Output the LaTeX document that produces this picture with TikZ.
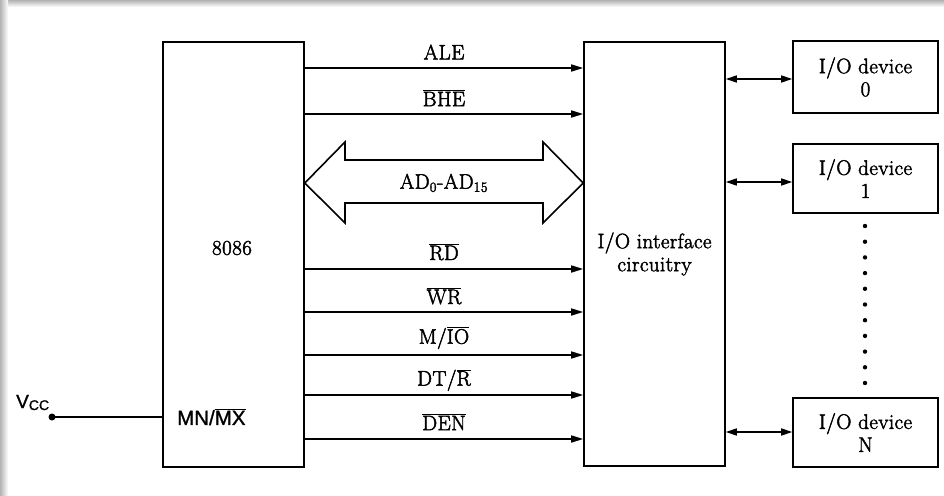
\documentclass[tikz,border=0pt]{standalone}
\usepackage{fontspec}
\newfontfamily\arialf[FakeBold=1.2]{Liberation Sans}
\newfontfamily\medfont[FakeBold=2.2,LetterSpace=2]{Latin Modern Roman}
\usetikzlibrary{arrows.meta}
\newcommand\ovl[1]{$\overline{\mbox{#1}}$}
\newcommand\sigline[4]{%
  \draw[sig] (cpu.east |- 0,#2) -- (iface.west |- 0,#2);
  \node[lbl] (#1) at (444,#3) {#4};}
\begin{document}
\begin{tikzpicture}[x=1pt,y=-1pt,
  box/.style={draw,line width=1.6pt,inner sep=0pt},
  sig/.style={line width=1.6pt,-{Triangle[length=12pt,width=7pt]}},
  dbl/.style={line width=1.6pt,{Triangle[length=11pt,width=7pt]}-{Triangle[length=11pt,width=7pt]}},
  lbl/.style={font=\medfont\fontsize{21}{23}\selectfont,inner sep=0pt},
  sanslbl/.style={font=\arialf\fontsize{20.5}{22}\selectfont,inner sep=0pt}]
\useasboundingbox (0,0) rectangle (944,495);
\fill[white] (0,0) rectangle (944,495);
\shade[top color=black!30,bottom color=white] (0,0) rectangle (944,7);
\shade[left color=black!30,right color=white] (0,0) rectangle (8,495);

% main boxes
\node[box,minimum width=141pt,minimum height=425pt] (cpu) at (233.5,254.5) {};
\node[lbl] (cpulbl) at (232,248) {8086};
\node[box,lbl,minimum width=141pt,minimum height=424pt,align=center] (iface) at (654.5,254) {I/O interface\\circuitry};

% devices
\node[box,lbl,minimum width=145pt,minimum height=72pt,align=center] (dev0) at (865.5,77) {I/O device\\0};
\node[box,lbl,minimum width=145pt,minimum height=69pt,align=center] (dev1) at (865.5,178.5) {I/O device\\1};
\node[box,lbl,minimum width=145pt,minimum height=69pt,align=center] (devN) at (865.5,432.5) {I/O device\\N};

\draw[dbl] (iface.east |- 0,79) -- (dev0.west |- 0,79);
\draw[dbl] (iface.east |- 0,182) -- (dev1.west |- 0,182);
\draw[dbl] (iface.east |- 0,432) -- (devN.west |- 0,432);

\foreach \i in {0,...,10} \fill (865,{226+15.7*\i}) circle (2.2pt);

% control signals
\sigline{ale}{68}{52}{ALE}
\sigline{bhe}{114}{98}{\ovl{BHE}}
\sigline{rd}{269}{252}{\ovl{RD}}
\sigline{wr}{312}{296}{\ovl{WR}}
\sigline{mio}{355}{338}{M/\ovl{IO}}
\sigline{dtr}{395}{380}{DT/\ovl{R}}
\sigline{den}{439}{422}{\ovl{DEN}}

% address/data bus
\draw[line width=1.6pt,line join=miter]
  (cpu.east |- 0,183) -- (345,142) -- (345,160) -- (543,160) -- (543,142)
  -- (iface.west |- 0,183) -- (543,223) -- (543,203) -- (345,203) -- (345,223) -- cycle;
\node[lbl] (adlbl) at (444,183) {AD$_{\mbox{\fontsize{14}{15}\selectfont 0}}$-AD$_{\mbox{\fontsize{14}{15}\selectfont 15}}$};

% MN/MX and Vcc
\node[sanslbl,anchor=west] (mnmx) at (177,417) {MN/\ovl{MX}};
\coordinate (vdot) at (52,417);
\fill (vdot) circle (3.5pt);
\draw[line width=1.6pt] (vdot) -- (cpu.west |- vdot);
\node[font=\arialf\fontsize{19}{22}\selectfont,inner sep=0pt,anchor=base west] (vcc) at (16,408)
  {V\raisebox{-2pt}{\fontsize{14}{15}\selectfont CC}};
\end{tikzpicture}
\end{document}
